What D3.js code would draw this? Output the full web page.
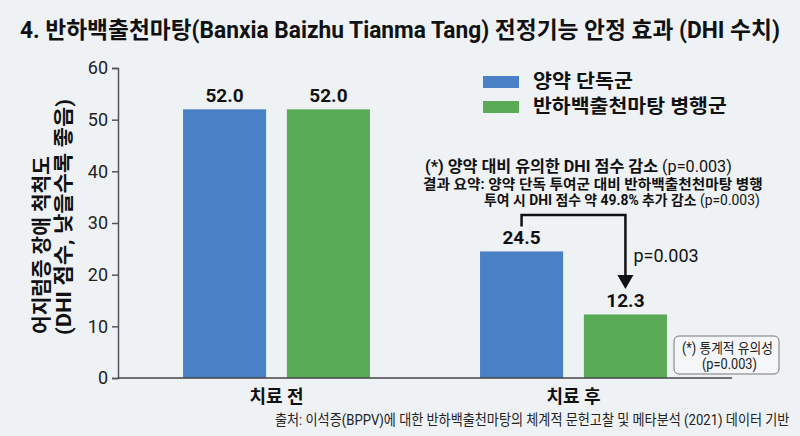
<!DOCTYPE html>
<html>
<head>
<meta charset="utf-8">
<script src="https://cdn.jsdelivr.net/npm/d3@7"></script>
<style>
  body { margin: 0; background: #eff2f5; }
  svg { display: block; font-family: Roboto, "Noto Sans CJK KR", sans-serif; }
</style>
</head>
<body>
<div id="wrapper"></div>
<script>
// data
const groups = ["치료 전", "치료 후"];
const series = ["양약 단독군", "반하백출천마탕 병행군"];
const beforeValues = [52.0, 52.0];
const afterValues = [24.5, 12.3];
const yTicks = [0, 10, 20, 30, 40, 50, 60];
const colors = ["#4a80c6", "#5aab55"];

const width = 800, height = 436;

const svg = d3.select("#wrapper").append("svg")
  .attr("width", width)
  .attr("height", height);

svg.append("rect").attr("width", width).attr("height", height).attr("fill", "#eff2f5");

// squeeze a text (placed at 0,0) to a width
function fit(sel, w, x, y, rot) {
  const n = sel.node().getComputedTextLength();
  sel.attr("transform", "translate(" + x + "," + y + ")" + (rot ? " rotate(" + rot + ")" : "") +
    " scale(" + (w / n) + ",1)");
  return sel;
}

// title
fit(svg.append("text")
  .attr("font-size", 23).attr("font-weight", "bold").attr("fill", "#111")
  .text("4. 반하백출천마탕(Banxia Baizhu Tianma Tang) 전정기능 안정 효과 (DHI 수치)"), 760, 20, 38);

// scales
const y = d3.scaleLinear().domain([0, 60]).range([378, 68]);
const x0 = d3.scaleBand().domain(groups).range([128, 722]).padding(0);
const x1 = d3.scaleBand().domain(series).range([0, x0.bandwidth()])
  .paddingInner(0.2).paddingOuter(0.53);

const data = groups.map((g, i) => ({
  group: g,
  values: series.map((s, j) => ({ series: s, value: i === 0 ? beforeValues[j] : afterValues[j], j: j }))
}));

// y axis
const yAxis = svg.append("g")
  .attr("transform", "translate(118,0)")
  .call(d3.axisLeft(y).tickValues(yTicks).tickSize(6).tickPadding(4));
yAxis.select(".domain").attr("stroke", "#555").attr("stroke-width", 1.5);
yAxis.selectAll(".tick line").attr("stroke", "#555").attr("stroke-width", 1.5);
yAxis.selectAll(".tick text").attr("font-size", 18).attr("fill", "#222")
  .attr("font-family", "Roboto, sans-serif");

// bars
const gGroups = svg.append("g").selectAll("g")
  .data(data).enter().append("g")
  .attr("transform", d => "translate(" + x0(d.group) + ",0)");

gGroups.selectAll("rect")
  .data(d => d.values).enter().append("rect")
  .attr("x", d => x1(d.series))
  .attr("y", d => y(d.value))
  .attr("width", x1.bandwidth())
  .attr("height", d => y(0) - y(d.value))
  .attr("fill", d => colors[d.j]);

gGroups.selectAll("text.val")
  .data(d => d.values).enter().append("text")
  .attr("class", "val")
  .attr("x", d => x1(d.series) + x1.bandwidth() / 2)
  .attr("y", d => y(d.value) - 7)
  .attr("text-anchor", "middle")
  .attr("font-size", 19).attr("font-weight", "bold").attr("fill", "#111")
  .text(d => d.value.toFixed(1));

// x baseline
svg.append("line")
  .attr("x1", 118).attr("x2", 732)
  .attr("y1", y(0)).attr("y2", y(0))
  .attr("stroke", "#444").attr("stroke-width", 1.5);

svg.append("g").selectAll("text")
  .data(groups).enter().append("text")
  .attr("x", d => x0(d) + x0.bandwidth() / 2)
  .attr("y", 403)
  .attr("text-anchor", "middle")
  .attr("font-size", 18).attr("font-weight", "bold").attr("fill", "#111")
  .text(d => d);

// y label
const yl = svg.append("g");
fit(yl.append("text")
  .attr("font-size", 20).attr("font-weight", "bold").attr("fill", "#111")
  .text("어지럼증 장애 척척도"), 178, 49, 334, -90);
fit(yl.append("text")
  .attr("font-size", 20).attr("font-weight", "bold").attr("fill", "#111")
  .text("(DHI 점수, 낮을수록 좋음)"), 236, 71, 335, -90);

// legend
const legend = svg.append("g").selectAll("g")
  .data(series).enter().append("g")
  .attr("transform", (d, i) => "translate(483," + (76 + i * 25) + ")");
legend.append("rect")
  .attr("width", 36).attr("height", 12)
  .attr("fill", (d, i) => colors[i]);
legend.append("text")
  .attr("font-size", 19).attr("font-weight", "bold").attr("fill", "#111")
  .text(d => d)
  .each(function (d, i) { fit(d3.select(this), i === 0 ? 100 : 194, 50, 12); });

// significance annotation
const ann = svg.append("g").attr("fill", "#111");
const t1 = ann.append("text").attr("font-size", 16);
t1.append("tspan").attr("font-weight", "bold").text("(*) 양약 대비 유의한 DHI 점수 감소 ");
t1.append("tspan").text("(p=0.003)");
fit(t1, 307, 425, 172);

const t2 = ann.append("text").attr("font-size", 14)
  .attr("font-weight", "bold").text("결과 요약: 양약 단독 투여군 대비 반하백출천천마탕 병행");
fit(t2, 340, 423, 189);

const t3 = ann.append("text").attr("font-size", 14);
t3.append("tspan").attr("font-weight", "bold").text("투여 시 DHI 점수 약 49.8% 추가 감소 ");
t3.append("tspan").text("(p=0.003)");
fit(t3, 276, 484, 205);

// bracket from single-drug bar to combination bar
const bx1 = x0(groups[1]) + x1(series[0]) + x1.bandwidth() / 2;
const bx2 = x0(groups[1]) + x1(series[1]) + x1.bandwidth() / 2;
const topY = 215;
svg.append("path")
  .attr("d", "M" + bx1 + "," + (y(afterValues[0]) - 25) + "V" + topY + "H" + bx2 + "V" + 276)
  .attr("fill", "none").attr("stroke", "#111").attr("stroke-width", 2.5);
svg.append("path")
  .attr("d", "M" + (bx2 - 8) + ",275L" + (bx2 + 8) + ",275L" + bx2 + ",289Z")
  .attr("fill", "#111");

svg.append("text")
  .attr("x", bx2 + 8).attr("y", 262)
  .attr("font-size", 18).attr("fill", "#111")
  .text("p=0.003");

// note box
const note = svg.append("g");
note.append("rect")
  .attr("x", 674).attr("y", 336).attr("width", 105).attr("height", 38)
  .attr("rx", 5).attr("fill", "#f4f6f8").attr("stroke", "#777").attr("stroke-width", 1);
fit(note.append("text")
  .attr("font-size", 14).attr("fill", "#222")
  .text("(*) 통계적 유의성"), 91, 682, 353);
fit(note.append("text")
  .attr("font-size", 14).attr("fill", "#222")
  .text("(p=0.003)"), 55, 702, 369);

// source
fit(svg.append("text")
  .attr("font-size", 15).attr("fill", "#222")
  .text("출처: 이석증(BPPV)에 대한 반하백출천마탕의 체계적 문헌고찰 및 메타분석 (2021) 데이터 기반"), 515, 275, 425);
</script>
</body>
</html>
